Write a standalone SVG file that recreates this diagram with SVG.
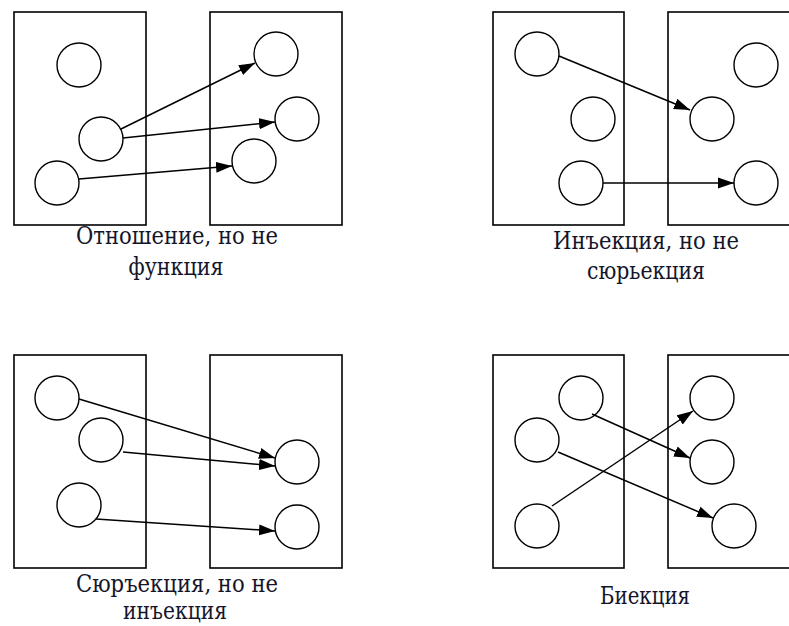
<svg xmlns="http://www.w3.org/2000/svg" width="789" height="626" viewBox="0 0 789 626">
<defs>
<style>
.set{fill:none;stroke:#000;stroke-width:1.6}
.el{fill:#fff;stroke:#000;stroke-width:1.4}
.ar{fill:none;stroke:#000;stroke-width:1.5;marker-end:url(#ah)}
text{font-family:'DejaVu Serif',serif;font-size:23.5px;fill:#15152a;text-anchor:middle}
</style>
<marker id="ah" markerUnits="userSpaceOnUse" markerWidth="18" markerHeight="12" refX="16" refY="6" orient="auto">
<path d="M0,0.5 L16,6 L0,11.5 z" fill="#000"/>
</marker>
</defs>
<rect width="789" height="626" fill="#fff"/>

<!-- Quadrant 1: relation, not function -->
<g id="q1-domain"><rect class="set" x="14" y="12" width="132" height="213"/></g>
<g id="q1-codomain"><rect class="set" x="210" y="12" width="132" height="213"/></g>
<g id="q1-a1"><circle class="el" cx="79" cy="65" r="22"/></g>
<g id="q1-a2"><circle class="el" cx="101" cy="139" r="22"/></g>
<g id="q1-a3"><circle class="el" cx="57" cy="183" r="22"/></g>
<g id="q1-b1"><circle class="el" cx="276" cy="54" r="22"/></g>
<g id="q1-b2"><circle class="el" cx="297" cy="119" r="22"/></g>
<g id="q1-b3"><circle class="el" cx="254" cy="161" r="22"/></g>
<g id="q1-label"><text x="177" y="244" textLength="202" lengthAdjust="spacingAndGlyphs">Отношение, но не</text><text x="176" y="275" textLength="95" lengthAdjust="spacingAndGlyphs">функция</text></g>

<!-- Quadrant 2: injection, not surjection -->
<g id="q2-domain"><rect class="set" x="493" y="12" width="131" height="213"/></g>
<g id="q2-codomain"><rect class="set" x="668" y="12" width="140" height="213"/></g>
<g id="q2-a1"><circle class="el" cx="537" cy="54" r="22"/></g>
<g id="q2-a2"><circle class="el" cx="593" cy="119" r="22"/></g>
<g id="q2-a3"><circle class="el" cx="581" cy="183" r="22"/></g>
<g id="q2-b1"><circle class="el" cx="756" cy="65" r="22"/></g>
<g id="q2-b2"><circle class="el" cx="712" cy="119" r="22"/></g>
<g id="q2-b3"><circle class="el" cx="756" cy="183" r="22"/></g>
<g id="q2-label"><text x="646" y="249" textLength="186" lengthAdjust="spacingAndGlyphs">Инъекция, но не</text><text x="646" y="279" textLength="118" lengthAdjust="spacingAndGlyphs">сюрьекция</text></g>

<!-- Quadrant 3: surjection, not injection -->
<g id="q3-domain"><rect class="set" x="14" y="355" width="132" height="213"/></g>
<g id="q3-codomain"><rect class="set" x="210" y="355" width="132" height="213"/></g>
<g id="q3-a1"><circle class="el" cx="57" cy="398" r="22"/></g>
<g id="q3-a2"><circle class="el" cx="101" cy="440" r="22"/></g>
<g id="q3-a3"><circle class="el" cx="79" cy="505" r="22"/></g>
<g id="q3-b1"><circle class="el" cx="297" cy="462" r="22"/></g>
<g id="q3-b2"><circle class="el" cx="297" cy="527" r="22"/></g>
<g id="q3-label"><text x="177" y="592" textLength="202" lengthAdjust="spacingAndGlyphs">Сюръекция, но не</text><text x="175" y="619" textLength="104" lengthAdjust="spacingAndGlyphs">инъекция</text></g>

<!-- Quadrant 4: bijection -->
<g id="q4-domain"><rect class="set" x="493" y="355" width="131" height="213"/></g>
<g id="q4-codomain"><rect class="set" x="668" y="355" width="140" height="213"/></g>
<g id="q4-a1"><circle class="el" cx="581" cy="398" r="22"/></g>
<g id="q4-a2"><circle class="el" cx="537" cy="440" r="22"/></g>
<g id="q4-a3"><circle class="el" cx="537" cy="526" r="22"/></g>
<g id="q4-b1"><circle class="el" cx="712" cy="398" r="22"/></g>
<g id="q4-b2"><circle class="el" cx="712" cy="462" r="22"/></g>
<g id="q4-b3"><circle class="el" cx="734" cy="526" r="22"/></g>
<g id="q4-label"><text x="645" y="604" textLength="90" lengthAdjust="spacingAndGlyphs">Биекция</text></g>

<g id="connectors">
<line class="ar" x1="121" y1="129" x2="255" y2="63"/>
<line class="ar" x1="123" y1="138" x2="275" y2="122"/>
<line class="ar" x1="79" y1="179" x2="232" y2="166"/>

<line class="ar" x1="559" y1="56" x2="690" y2="110"/>
<line class="ar" x1="603" y1="183" x2="734" y2="183"/>

<line class="ar" x1="79" y1="399" x2="275" y2="458"/>
<line class="ar" x1="123" y1="452" x2="275" y2="466"/>
<line class="ar" x1="96" y1="519" x2="275" y2="531"/>

<line class="ar" x1="592" y1="414" x2="690" y2="458"/>
<line class="ar" x1="558" y1="452" x2="713" y2="518"/>
<line class="ar" x1="552" y1="506" x2="693" y2="411"/>
</g>
</svg>
